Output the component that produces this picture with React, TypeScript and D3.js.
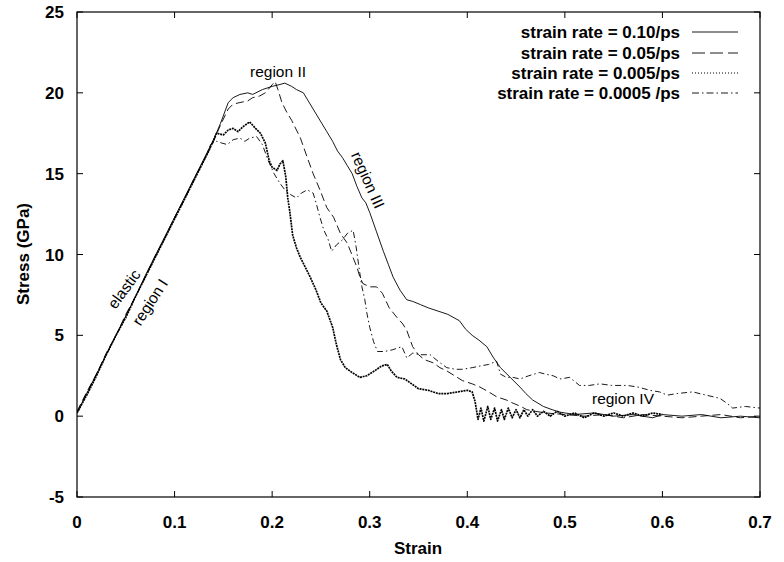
import React from "react";
import * as d3 from "d3";

type P = [number, number];

const xTicks = [0, 0.1, 0.2, 0.3, 0.4, 0.5, 0.6, 0.7];
const yTicks = [-5, 0, 5, 10, 15, 20, 25];
const xTickLabels = ["0", "0.1", "0.2", "0.3", "0.4", "0.5", "0.6", "0.7"];
const yTickLabels = ["-5", "0", "5", "10", "15", "20", "25"];

const seriesNames = [
  "strain rate = 0.10/ps",
  "strain rate = 0.05/ps",
  "strain rate = 0.005/ps",
  "strain rate = 0.0005 /ps",
];

const rate010: P[] = [
  [0, 0.2], [0.01, 1.4], [0.02, 2.6], [0.03, 3.8], [0.04, 5.0], [0.05, 6.2], [0.06, 7.4],
  [0.07, 8.7], [0.08, 9.9], [0.09, 11.1], [0.1, 12.3], [0.11, 13.5], [0.12, 14.7],
  [0.13, 15.9], [0.14, 17.1], [0.147, 18.1], [0.155, 19.4], [0.16, 19.7], [0.167, 19.9],
  [0.175, 20.0], [0.18, 19.9], [0.19, 20.2], [0.2, 20.4], [0.207, 20.5], [0.213, 20.6],
  [0.22, 20.4], [0.225, 20.2], [0.232, 20.0], [0.237, 19.5], [0.242, 19.0], [0.25, 18.2],
  [0.256, 17.6], [0.262, 17.0], [0.267, 16.4], [0.272, 16.0], [0.277, 15.5], [0.282, 15.0],
  [0.287, 14.2], [0.292, 13.5], [0.296, 13.2], [0.3, 12.6], [0.307, 11.4], [0.314, 10.2],
  [0.319, 9.4], [0.324, 8.6], [0.331, 7.8], [0.338, 7.2], [0.344, 7.1], [0.352, 6.9],
  [0.36, 6.7], [0.37, 6.5], [0.38, 6.3], [0.392, 5.9], [0.398, 5.4], [0.405, 5.0],
  [0.412, 4.7], [0.42, 4.3], [0.427, 3.6], [0.434, 3.0], [0.444, 2.4], [0.454, 1.8],
  [0.46, 1.4], [0.467, 1.0], [0.478, 0.6], [0.487, 0.4], [0.495, 0.25], [0.51, 0.1],
  [0.53, 0.2], [0.55, 0.0], [0.57, 0.1], [0.59, -0.1], [0.6, 0.1], [0.62, 0.0],
  [0.64, 0.1], [0.66, -0.1], [0.68, 0.0], [0.7, -0.1],
];

const rate005: P[] = [
  [0, 0.3], [0.01, 1.5], [0.02, 2.6], [0.03, 3.9], [0.04, 5.0], [0.05, 6.3], [0.06, 7.4],
  [0.07, 8.6], [0.08, 9.9], [0.09, 11.0], [0.1, 12.3], [0.11, 13.4], [0.12, 14.7],
  [0.13, 15.8], [0.14, 17.0], [0.147, 18.0], [0.155, 19.0], [0.16, 19.3], [0.167, 19.4],
  [0.175, 19.5], [0.18, 19.7], [0.187, 19.8], [0.193, 20.0], [0.2, 20.5], [0.203, 20.7],
  [0.206, 20.2], [0.21, 19.4], [0.215, 18.8], [0.22, 18.3], [0.229, 17.2], [0.236, 16.0],
  [0.242, 15.0], [0.249, 14.0], [0.256, 12.9], [0.263, 12.3], [0.27, 11.3], [0.277, 10.7],
  [0.283, 9.8], [0.287, 9.2], [0.29, 8.6], [0.293, 8.2], [0.3, 8.0], [0.307, 8.0],
  [0.313, 7.6], [0.32, 6.7], [0.328, 6.1], [0.334, 5.7], [0.338, 5.3], [0.344, 4.3],
  [0.35, 3.8], [0.356, 3.5], [0.365, 3.3], [0.372, 3.0], [0.379, 2.8], [0.387, 2.5],
  [0.395, 2.2], [0.405, 2.0], [0.413, 1.8], [0.422, 1.5], [0.43, 1.2], [0.44, 1.0],
  [0.447, 0.8], [0.455, 0.6], [0.461, 0.4], [0.47, 0.3], [0.48, 0.2], [0.5, 0.1],
  [0.52, 0.0], [0.54, 0.1], [0.56, -0.1], [0.58, 0.1], [0.6, 0.0], [0.62, -0.1],
  [0.64, 0.0], [0.66, 0.1], [0.68, -0.1], [0.7, 0.0],
];

const rate0005: P[] = [
  [0, 0.2], [0.01, 1.3], [0.02, 2.5], [0.03, 3.8], [0.04, 5.0], [0.05, 6.1], [0.06, 7.4],
  [0.07, 8.6], [0.08, 9.8], [0.09, 11.0], [0.1, 12.2], [0.11, 13.4], [0.12, 14.6],
  [0.13, 15.8], [0.135, 16.4], [0.143, 17.5], [0.15, 17.4], [0.155, 17.7], [0.16, 17.8],
  [0.165, 17.6], [0.17, 17.9], [0.177, 18.2], [0.183, 17.8], [0.188, 17.5], [0.193, 16.9],
  [0.197, 15.8], [0.2, 15.4], [0.205, 15.2], [0.208, 15.6], [0.211, 15.8], [0.214, 14.8],
  [0.216, 13.5], [0.218, 12.7], [0.221, 11.2], [0.225, 10.4], [0.229, 9.8], [0.234, 9.2],
  [0.239, 8.6], [0.245, 7.8], [0.25, 7.0], [0.256, 6.5], [0.262, 5.5], [0.266, 4.4],
  [0.27, 3.5], [0.275, 3.0], [0.282, 2.7], [0.29, 2.4], [0.297, 2.5], [0.305, 2.8],
  [0.312, 3.1], [0.318, 3.2], [0.322, 2.8], [0.328, 2.4], [0.336, 2.3], [0.343, 2.0],
  [0.35, 1.7], [0.36, 1.6], [0.37, 1.4], [0.38, 1.4], [0.39, 1.5], [0.4, 1.6],
  [0.405, 1.5], [0.408, 0.9], [0.411, -0.2], [0.414, 0.5], [0.417, -0.3], [0.421, 0.6],
  [0.424, -0.2], [0.428, 0.5], [0.431, -0.3], [0.435, 0.4], [0.438, -0.2], [0.442, 0.5],
  [0.446, -0.1], [0.45, 0.4], [0.454, -0.1], [0.458, 0.4], [0.462, 0.0], [0.467, 0.4],
  [0.472, 0.0], [0.478, 0.3], [0.485, 0.0], [0.492, 0.3], [0.5, 0.0], [0.51, 0.2],
  [0.52, -0.1], [0.53, 0.2], [0.54, 0.0], [0.55, 0.2], [0.56, 0.0], [0.57, 0.2],
  [0.58, 0.0], [0.59, 0.2], [0.6, 0.1],
];

const rate00005: P[] = [
  [0, 0.2], [0.01, 1.4], [0.02, 2.6], [0.03, 3.8], [0.04, 5.0], [0.05, 6.2], [0.06, 7.4],
  [0.07, 8.6], [0.08, 9.8], [0.09, 11.0], [0.1, 12.2], [0.11, 13.4], [0.12, 14.6],
  [0.13, 15.8], [0.137, 16.8], [0.143, 17.0], [0.148, 16.9], [0.154, 16.8], [0.16, 17.1],
  [0.167, 17.2], [0.172, 17.0], [0.177, 17.2], [0.184, 17.3], [0.19, 16.8], [0.196, 15.8],
  [0.202, 15.0], [0.208, 14.4], [0.213, 14.0], [0.219, 13.7], [0.225, 13.5], [0.23, 13.8],
  [0.236, 14.0], [0.242, 13.8], [0.245, 13.2], [0.249, 12.3], [0.253, 11.5], [0.257, 11.0],
  [0.261, 10.2], [0.266, 10.6], [0.272, 10.9], [0.277, 11.3], [0.283, 11.5], [0.286, 10.5],
  [0.289, 9.2], [0.292, 8.0], [0.295, 7.2], [0.297, 6.4], [0.3, 5.5], [0.304, 4.6],
  [0.308, 4.0], [0.315, 4.0], [0.323, 4.1], [0.333, 4.3], [0.338, 3.6], [0.344, 3.9],
  [0.352, 3.8], [0.362, 3.8], [0.37, 3.4], [0.379, 3.0], [0.388, 2.9], [0.395, 2.9],
  [0.405, 3.0], [0.413, 3.1], [0.422, 3.2], [0.43, 3.4], [0.434, 2.6], [0.44, 2.4],
  [0.447, 2.4], [0.454, 2.3], [0.463, 2.5], [0.474, 2.7], [0.48, 2.6], [0.488, 2.5],
  [0.495, 2.3], [0.505, 2.4], [0.515, 1.9], [0.525, 1.9], [0.536, 2.0], [0.548, 1.9],
  [0.564, 1.9], [0.575, 1.8], [0.587, 1.6], [0.597, 1.5], [0.605, 1.3], [0.615, 1.4],
  [0.631, 1.5], [0.645, 1.3], [0.659, 1.1], [0.666, 0.8], [0.672, 0.5], [0.685, 0.6],
  [0.7, 0.5],
];

const W = 784;
const H = 562;
const M = { left: 77, right: 760, top: 12, bottom: 497 };
const FONT = "'Liberation Sans', Arial, Helvetica, sans-serif";

const styles = [
  { data: rate010, dash: "none", width: 0.9 },
  { data: rate005, dash: "8,4", width: 0.9 },
  { data: rate0005, dash: "2,0.8", width: 1.7 },
  { data: rate00005, dash: "6,3,1.5,3", width: 0.9 },
];

export default function App() {
  const x = d3.scaleLinear().domain([0, 0.7]).range([M.left, M.right]);
  const y = d3.scaleLinear().domain([-5, 25]).range([M.bottom, M.top]);
  const line = d3
    .line<P>()
    .x((d) => x(d[0]))
    .y((d) => y(d[1]));

  const legendLegX1 = 692;
  const legendLegX2 = 738;
  const legendY = [32, 53, 73, 93];

  return (
    <svg
      width={W}
      height={H}
      style={{ position: "absolute", left: 0, top: 0, background: "#fff" }}
      fontFamily={FONT}
    >
      <rect x={0} y={0} width={W} height={H} fill="#fff" />
      <defs>
        <clipPath id="plot">
          <rect x={M.left} y={M.top} width={M.right - M.left} height={M.bottom - M.top} />
        </clipPath>
      </defs>
      {/* ticks */}
      {xTicks.map((t, i) => (
        <g key={"xt" + i}>
          <line x1={x(t)} x2={x(t)} y1={M.bottom} y2={M.bottom - 6} stroke="#000" strokeWidth={1} />
          <line x1={x(t)} x2={x(t)} y1={M.top} y2={M.top + 6} stroke="#000" strokeWidth={1} />
          <text
            x={x(t)}
            y={528}
            textAnchor="middle"
            fontSize={17}
            fontWeight="bold"
            fill="#000"
          >
            {xTickLabels[i]}
          </text>
        </g>
      ))}
      {yTicks.map((t, i) => (
        <g key={"yt" + i}>
          <line x1={M.left} x2={M.left + 6} y1={y(t)} y2={y(t)} stroke="#000" strokeWidth={1} />
          <line x1={M.right} x2={M.right - 6} y1={y(t)} y2={y(t)} stroke="#000" strokeWidth={1} />
          <text
            x={64}
            y={y(t)}
            dy="0.36em"
            textAnchor="end"
            fontSize={17}
            fontWeight="bold"
            fill="#000"
          >
            {yTickLabels[i]}
          </text>
        </g>
      ))}
      {/* curves */}
      <g clipPath="url(#plot)">
        {styles.map((s, i) => (
          <path
            key={"c" + i}
            d={line(s.data) || ""}
            fill="none"
            stroke="#000"
            strokeWidth={s.width}
            strokeDasharray={s.dash}
            strokeLinejoin="round"
          />
        ))}
      </g>
      {/* frame */}
      <rect
        x={M.left}
        y={M.top}
        width={M.right - M.left}
        height={M.bottom - M.top}
        fill="none"
        stroke="#000"
        strokeWidth={1.2}
      />
      {/* legend */}
      {seriesNames.map((n, i) => (
        <g key={"lg" + i}>
          <text
            x={680}
            y={legendY[i]}
            dy="0.36em"
            textAnchor="end"
            fontSize={17}
            fontWeight="bold"
            fill="#000"
          >
            {n}
          </text>
          <line
            x1={legendLegX1}
            x2={legendLegX2}
            y1={legendY[i]}
            y2={legendY[i]}
            stroke="#000"
            strokeWidth={i === 2 ? 1 : 0.9}
            strokeDasharray={i === 0 ? "none" : i === 1 ? "13,5" : i === 2 ? "1,2" : "7,3,1.5,3"}
          />
        </g>
      ))}
      {/* axis titles */}
      <text x={418} y={554} textAnchor="middle" fontSize={17} fontWeight="bold" fill="#000">
        Strain
      </text>
      <text
        transform="translate(29,254) rotate(-90)"
        textAnchor="middle"
        fontSize={17}
        fontWeight="bold"
        fill="#000"
      >
        Stress (GPa)
      </text>
      {/* annotations */}
      <text x={278} y={77} textAnchor="middle" fontSize={15.5} fill="#000">
        region II
      </text>
      <text
        transform="translate(368,180) rotate(66)"
        textAnchor="middle"
        dy="0.35em"
        fontSize={15.5}
        fill="#000"
      >
        region III
      </text>
      <text
        transform="translate(124,289) rotate(-54)"
        textAnchor="middle"
        dy="0.35em"
        fontSize={15.5}
        fill="#000"
      >
        elastic
      </text>
      <text
        transform="translate(150,302) rotate(-57)"
        textAnchor="middle"
        dy="0.35em"
        fontSize={15.5}
        fill="#000"
      >
        region I
      </text>
      <text x={623} y={404} textAnchor="middle" fontSize={15.5} fill="#000">
        region IV
      </text>
    </svg>
  );
}
